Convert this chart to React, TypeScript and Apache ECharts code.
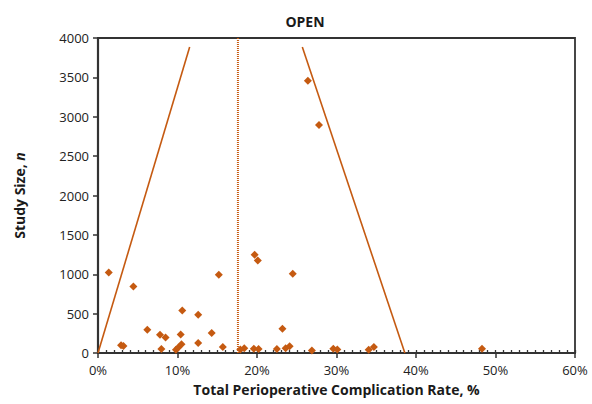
import React, { useEffect, useRef } from "react";
import * as echarts from "echarts";

const title = "OPEN";
const xAxisName = "Total Perioperative Complication Rate, %";
const xTicks = [0, 10, 20, 30, 40, 50, 60];
const yTicks = [0, 500, 1000, 1500, 2000, 2500, 3000, 3500, 4000];

// study points: [complication rate %, study size n]
const rates = [
  1.35, 4.45, 2.9, 3.2, 6.2, 7.8, 8.5, 7.97, 10.6, 10.4, 9.8, 10.1, 10.5,
  15.2, 12.6, 14.3, 12.6, 15.7, 17.9, 18.4, 19.6, 20.2, 22.5, 23.2, 23.6,
  24.1, 24.5, 26.9, 29.6, 30.1, 34.05, 34.7, 48.3, 26.4, 27.8, 19.7, 20.1,
];
const sizes = [
  1022, 845, 100, 90, 295, 232, 198, 51, 540, 236, 40, 70, 110,
  993, 486, 254, 127, 76, 45, 60, 55, 50, 50, 308, 60,
  85, 1005, 33, 55, 45, 42, 76, 55, 3457, 2895, 1247, 1175,
];

const pooledRate = 17.6;
const lowerLimitX = [0, 11.53];
const lowerLimitY = [0, 3886];
const upperLimitX = [25.7, 38.6];
const upperLimitY = [3886, 0];

const ORANGE = "#C55A11";
const FONT = "Open Sans";
const TEXT = "#1a1a1a";

export default function App() {
  const ref = useRef<HTMLDivElement>(null);
  useEffect(() => {
    if (!ref.current) return;
    const chart = echarts.init(ref.current, undefined, { renderer: "svg" });
    const points = rates.map((r, i) => [r, sizes[i]]);
    chart.setOption({
      animation: false,
      backgroundColor: "#ffffff",
      title: {
        text: title,
        left: 300,
        textAlign: "center",
        top: 9,
        textStyle: { fontFamily: FONT, fontWeight: "bold", fontSize: 14, color: TEXT },
      },
      grid: {
        left: 98,
        top: 38,
        right: 17,
        bottom: 51,
        show: true,
        borderColor: "#333",
        borderWidth: 1.8,
        containLabel: false,
      },
      xAxis: [
        {
          type: "value",
          min: 0,
          max: 60,
          interval: 10,
          name: xAxisName,
          nameLocation: "middle",
          nameGap: 29,
          nameTextStyle: { fontFamily: FONT, fontWeight: "bold", fontSize: 14, color: TEXT },
          axisLine: { show: true, lineStyle: { color: "#333", width: 2.2 } },
          axisTick: { show: true, length: 5, inside: false, lineStyle: { color: "#333", width: 1.5 } },
          axisLabel: {
            fontFamily: FONT,
            fontSize: 13,
            color: "#222",
            margin: 10,
            formatter: (v: number) => (xTicks.includes(v) ? v + "%" : ""),
          },
          splitLine: { show: false },
        },
        {
          type: "value",
          min: 0,
          max: 60,
          interval: 1,
          position: "bottom",
          axisLine: { show: false },
          axisTick: { show: true, inside: true, length: 3, lineStyle: { color: "#333", width: 1.3 } },
          axisLabel: { show: false },
          splitLine: { show: false },
        },
      ],
      yAxis: {
        type: "value",
        min: 0,
        max: 4000,
        interval: 500,
        name: "Study Size, {i|n}",
        nameLocation: "middle",
        nameGap: 72,
        nameTextStyle: {
          fontFamily: FONT,
          fontWeight: "bold",
          fontSize: 14,
          color: TEXT,
          rich: {
            i: { fontFamily: FONT, fontWeight: "bold", fontStyle: "italic", fontSize: 14, color: TEXT },
          },
        },
        axisLine: { show: true, lineStyle: { color: "#333", width: 2.2 } },
        axisTick: { show: true, length: 5, lineStyle: { color: "#333", width: 1.5 } },
        axisLabel: {
          fontFamily: FONT,
          fontSize: 13,
          color: "#222",
          margin: 9,
          formatter: (v: number) => (yTicks.includes(v) ? String(v) : ""),
        },
        splitLine: { show: false },
      },
      series: [
        {
          type: "line",
          data: lowerLimitX.map((x, i) => [x, lowerLimitY[i]]),
          symbol: "none",
          lineStyle: { color: ORANGE, width: 1.6 },
          silent: true,
        },
        {
          type: "line",
          data: upperLimitX.map((x, i) => [x, upperLimitY[i]]),
          symbol: "none",
          lineStyle: { color: ORANGE, width: 1.6 },
          silent: true,
        },
        {
          type: "line",
          data: [
            [pooledRate, 0],
            [pooledRate, 4000],
          ],
          symbol: "none",
          lineStyle: { color: ORANGE, width: 2, type: [1, 1] },
          silent: true,
        },
        {
          type: "scatter",
          data: points,
          symbol: "diamond",
          symbolSize: [8, 8],
          itemStyle: { color: ORANGE, opacity: 1 },
        },
      ],
    });
    return () => chart.dispose();
  }, []);
  return <div ref={ref} style={{ width: 592, height: 404, position: "absolute", left: 0, top: 0 }} />;
}
